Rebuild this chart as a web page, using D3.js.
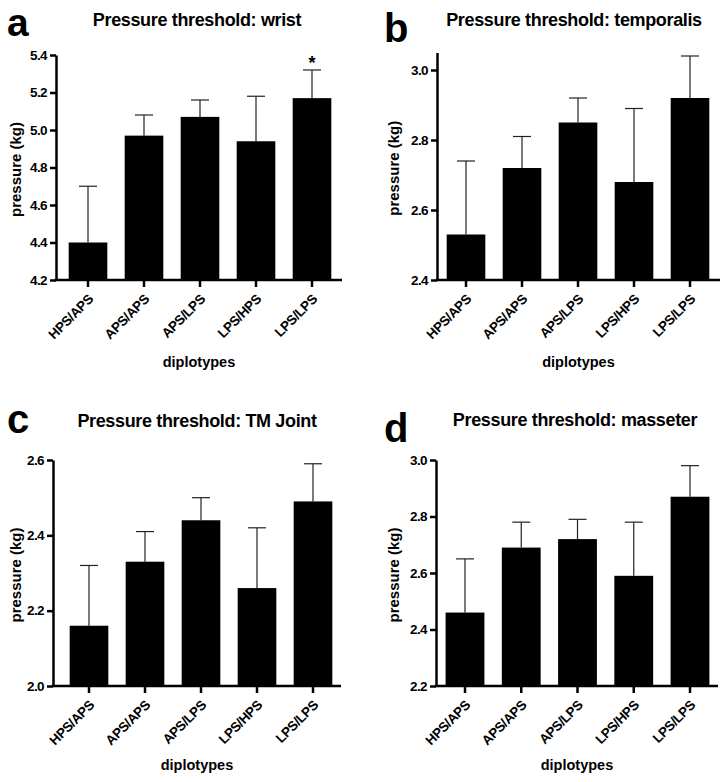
<!DOCTYPE html>
<html>
<head>
<meta charset="utf-8">
<script src="https://cdn.jsdelivr.net/npm/d3@7"></script>
<style>
  html, body { margin: 0; padding: 0; background: #fff; }
  svg { display: block; font-family: "Liberation Sans", Arial, Helvetica, sans-serif; }
</style>
</head>
<body>
<svg id="chart" width="727" height="782"></svg>
<script>
// ---------- data ----------
const categories = ["HPS/APS", "APS/APS", "APS/LPS", "LPS/HPS", "LPS/LPS"];

const wristMean = [4.40, 4.97, 5.07, 4.94, 5.17];
const wristErr  = [0.30, 0.11, 0.09, 0.24, 0.15];
const wristTicks = [4.2, 4.4, 4.6, 4.8, 5.0, 5.2, 5.4];

const temporalisMean = [2.53, 2.72, 2.85, 2.68, 2.92];
const temporalisErr  = [0.21, 0.09, 0.07, 0.21, 0.12];
const temporalisTicks = [2.4, 2.6, 2.8, 3.0];

const tmJointMean = [2.16, 2.33, 2.44, 2.26, 2.49];
const tmJointErr  = [0.16, 0.08, 0.06, 0.16, 0.10];
const tmJointTicks = [2.0, 2.2, 2.4, 2.6];

const masseterMean = [2.46, 2.69, 2.72, 2.59, 2.87];
const masseterErr  = [0.19, 0.09, 0.07, 0.19, 0.11];
const masseterTicks = [2.2, 2.4, 2.6, 2.8, 3.0];

const panelLetters = ["a", "b", "c", "d"];
const panelTitles = ["Pressure threshold: wrist", "Pressure threshold: temporalis",
                     "Pressure threshold: TM Joint", "Pressure threshold: masseter"];
const significance = [[null, null, null, null, "*"], null, null, null];

// ---------- layout ----------
const panels = [
  { mean: wristMean, err: wristErr, ticks: wristTicks, domain: [4.2, 5.4],
    axisX: 56, yBottom: 280, yTop: 55, firstCenter: 88, step: 56, xEnd: 342,
    letterX: 7, letterY: 35.5, letterSize: 39, titleX: 197, titleY: 26, ylabX: 16, xlabY: 367 },
  { mean: temporalisMean, err: temporalisErr, ticks: temporalisTicks, domain: [2.4, 3.05],
    axisX: 437, yBottom: 280, yTop: 52.5, firstCenter: 466, step: 56, xEnd: 720,
    letterX: 384, letterY: 42, letterSize: 40, titleX: 574, titleY: 26, ylabX: 394, xlabY: 367 },
  { mean: tmJointMean, err: tmJointErr, ticks: tmJointTicks, domain: [2.0, 2.6],
    axisX: 53, yBottom: 686, yTop: 460, firstCenter: 89, step: 56, xEnd: 341,
    letterX: 7, letterY: 433, letterSize: 40, titleX: 197, titleY: 427, ylabX: 16, xlabY: 770 },
  { mean: masseterMean, err: masseterErr, ticks: masseterTicks, domain: [2.2, 3.0],
    axisX: 436, yBottom: 686, yTop: 460, firstCenter: 465, step: 56.25, xEnd: 718,
    letterX: 384, letterY: 442, letterSize: 40, titleX: 575, titleY: 426, ylabX: 394, xlabY: 770 }
];

const svg = d3.select("#chart");

panels.forEach((p, i) => {
  const g = svg.append("g");
  const data = categories.map((c, k) => ({ cat: c, mean: p.mean[k], err: p.err[k] }));

  const y = d3.scaleLinear().domain(p.domain).range([p.yBottom, p.yTop]);
  const x = d3.scaleBand().domain(categories)
    .range([p.firstCenter - p.step / 2, p.firstCenter - p.step / 2 + 5 * p.step])
    .paddingInner(0.31).paddingOuter(0.155);

  // error bars (upper only)
  const eb = g.append("g").attr("stroke", "#222").attr("stroke-width", 1.2);
  eb.selectAll("line.v").data(data).join("line")
    .attr("x1", d => x(d.cat) + x.bandwidth() / 2).attr("x2", d => x(d.cat) + x.bandwidth() / 2)
    .attr("y1", d => y(d.mean)).attr("y2", d => y(d.mean + d.err));
  eb.selectAll("line.c").data(data).join("line")
    .attr("x1", d => x(d.cat) + x.bandwidth() / 2 - 9).attr("x2", d => x(d.cat) + x.bandwidth() / 2 + 9)
    .attr("y1", d => y(d.mean + d.err)).attr("y2", d => y(d.mean + d.err));

  // bars
  g.selectAll("rect.bar").data(data).join("rect")
    .attr("x", d => x(d.cat)).attr("width", x.bandwidth())
    .attr("y", d => y(d.mean)).attr("height", d => y(p.domain[0]) - y(d.mean))
    .attr("fill", "#000");

  // significance markers
  if (significance[i]) {
    g.selectAll("text.sig").data(data.filter((d, k) => significance[i][k])).join("text")
      .attr("x", d => x(d.cat) + x.bandwidth() / 2)
      .attr("y", d => y(d.mean + d.err) - 1)
      .attr("text-anchor", "middle").attr("font-size", 18).attr("font-weight", "bold")
      .text(() => "*");
  }

  // y axis
  const yAxis = d3.axisLeft(y).tickValues(p.ticks).tickFormat(d3.format(".1f"))
    .tickSize(6).tickSizeOuter(0).tickPadding(3);
  const ya = g.append("g").attr("transform", `translate(${p.axisX},0)`).call(yAxis);
  ya.select(".domain").attr("stroke-width", 2.5).attr("stroke", "#000");
  ya.selectAll(".tick line").attr("stroke-width", 2.5).attr("stroke", "#000");
  ya.selectAll(".tick text").attr("font-size", 13.5).attr("font-weight", "bold")
    .attr("fill", "#000").attr("letter-spacing", "-0.6px")
    .attr("font-family", "'Liberation Sans', Arial, sans-serif");

  // x axis
  const xAxis = d3.axisBottom(x).tickSize(7).tickSizeOuter(0).tickFormat(d => d);
  const xa = g.append("g").attr("transform", `translate(0,${p.yBottom})`).call(xAxis);
  xa.select(".domain").attr("d", `M${p.axisX - 1.25},0H${p.xEnd}`)
    .attr("stroke-width", 2.5).attr("stroke", "#000");
  xa.selectAll(".tick line").attr("stroke-width", 2.5).attr("stroke", "#000");
  xa.selectAll(".tick text")
    .attr("font-size", 13.5).attr("font-weight", "bold").attr("fill", "#000")
    .attr("letter-spacing", "-0.4px")
    .attr("font-family", "'Liberation Sans', Arial, sans-serif")
    .attr("text-anchor", "end")
    .attr("y", 0).attr("dy", 0)
    .attr("transform", "translate(6,20) rotate(-45)");

  // panel letter
  g.append("text").attr("x", p.letterX).attr("y", p.letterY)
    .attr("font-size", p.letterSize).attr("font-weight", "bold").text(panelLetters[i]);

  // title
  g.append("text").attr("x", p.titleX).attr("y", p.titleY)
    .attr("text-anchor", "middle").attr("font-size", 18).attr("font-weight", "bold")
    .attr("letter-spacing", "-0.35px").text(panelTitles[i]);

  // y label
  g.append("text")
    .attr("transform", `translate(${p.ylabX},${(p.yTop + p.yBottom) / 2 + 2}) rotate(-90)`)
    .attr("text-anchor", "middle").attr("dy", "0.35em")
    .attr("font-size", 15).attr("font-weight", "bold").text("pressure (kg)");

  // x label
  g.append("text").attr("x", (p.axisX + p.xEnd) / 2).attr("y", p.xlabY)
    .attr("text-anchor", "middle").attr("font-size", 14.5).attr("font-weight", "bold")
    .text("diplotypes");
});
</script>
</body>
</html>
